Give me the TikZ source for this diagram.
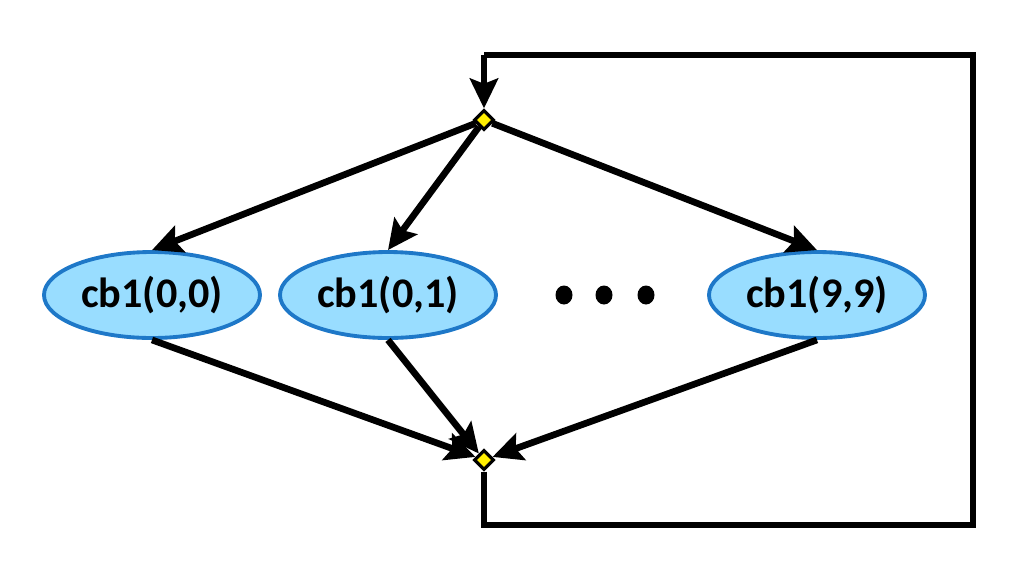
\documentclass[tikz,border=0pt]{standalone}
\usepackage{fontspec}
\setmainfont{Carlito}
\usetikzlibrary{arrows.meta, shapes.geometric, positioning}
\definecolor{cbfill}{RGB}{153, 221, 255}
\definecolor{cbline}{RGB}{30, 120, 200}
\definecolor{joinyellow}{RGB}{255, 238, 0}
\tikzset{
  block/.style={
    ellipse,
    draw=cbline,
    line width=1.1pt,
    fill=cbfill,
    minimum width=2.16cm,
    minimum height=0.86cm,
    inner sep=0pt,
    font=\fontsize{12}{14}\selectfont\bfseries
  },
  joint/.style={
    diamond,
    draw=black,
    line width=0.9pt,
    fill=joinyellow,
    minimum size=0.2cm,
    inner sep=0pt
  },
  flow/.style={
    line width=1.9pt,
    draw=black,
    -{Stealth[length=8.5pt, width=8pt, inset=1.5pt]}
  },
  back/.style={
    line width=1.9pt,
    draw=black
  },
  dot/.style={
    ellipse,
    fill=black,
    minimum width=0.17cm,
    minimum height=0.19cm,
    inner sep=0pt
  }
}
\begin{document}
\begin{tikzpicture}
  \useasboundingbox (0,0) rectangle (10.24,5.76);
  % joints
  \node[joint] (fork) at (4.84, 4.56) {};
  \node[joint] (join) at (4.84, 1.16) {};
  % blocks
  \node[block] (b00) at (1.52, 2.81) {cb1(0,0)};
  \node[block] (b01) at (3.88, 2.81) {cb1(0,1)};
  \node[block] (b99) at (8.17, 2.81) {cb1(9,9)};
  % dots
  \node[dot] (d1) at (5.64, 2.81) {};
  \node[dot] (d2) at (6.04, 2.81) {};
  \node[dot] (d3) at (6.46, 2.81) {};
  % loop back
  \coordinate (lt) at (4.84, 5.21);
  \coordinate (rt) at (9.73, 5.21);
  \coordinate (rb) at (9.73, 0.51);
  \coordinate (lb) at (4.84, 0.51);
  \draw[back] (join.south) -- (lb) -- (rb) -- (rt) -- (lt);
  \draw[flow] (lt) -- (fork.north);
  % fork edges
  \draw[flow] (fork) -- (b00.north);
  \draw[flow] (fork) -- (b01.north);
  \draw[flow] (fork) -- (b99.north);
  % join edges
  \draw[flow] (b00.south) -- (join);
  \draw[flow] (b01.south) -- (join);
  \draw[flow] (b99.south) -- (join);
\end{tikzpicture}
\end{document}
